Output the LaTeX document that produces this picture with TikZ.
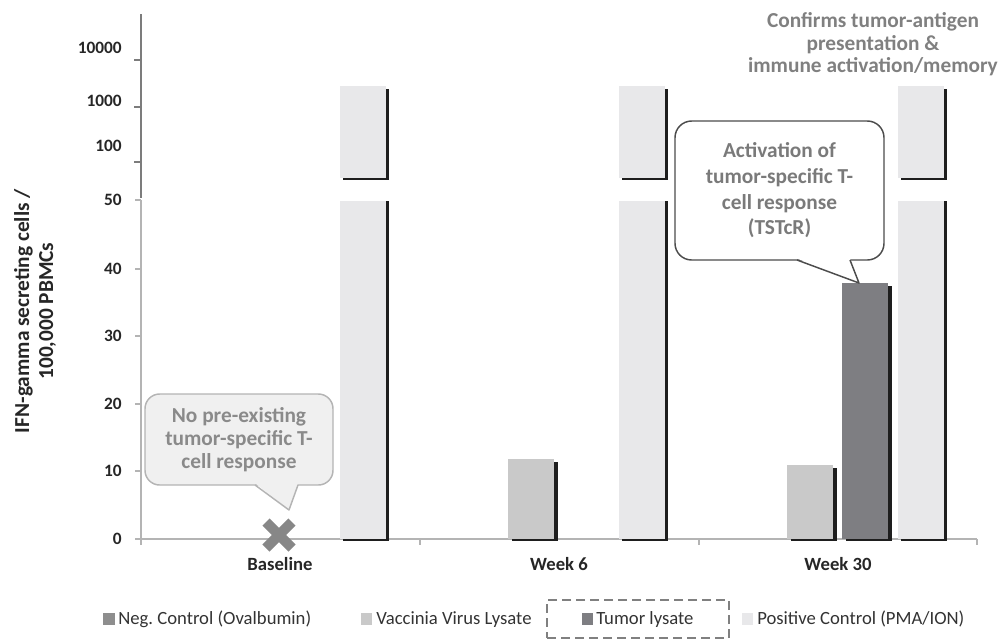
\documentclass[tikz,border=0pt]{standalone}
\usepackage{fontspec}
\setmainfont{Carlito}
\frenchspacing
\definecolor{posc}{HTML}{E8E8EA}
\definecolor{vacc}{HTML}{C9C9C9}
\definecolor{tumc}{HTML}{7E7E82}
\definecolor{negc}{HTML}{8E8E8E}
\definecolor{shadc}{HTML}{1E1E1E}
\definecolor{txtc}{HTML}{262626}
\definecolor{legt}{HTML}{333333}
\definecolor{calt}{HTML}{8A8A8A}
\definecolor{axup}{HTML}{7C7C7C}
\definecolor{axlo}{HTML}{B4B4B4}
\newcommand\drawbar[5]{% left x, top, bottom, colour, shadow top offset
  \fill[shadc] (#1+3.5,#2+#5) rectangle (#1+49.5,#3+1.5);
  \fill[#4] (#1,#2) rectangle (#1+46,#3);}
\begin{document}
\begin{tikzpicture}[x=0.75pt,y=-0.75pt,
  ticklab/.style={anchor=base east,inner sep=0pt,text=txtc,font=\fontsize{13}{15}\selectfont\bfseries},
  catlab/.style={anchor=base,inner sep=0pt,text=txtc,font=\fontsize{14}{17}\selectfont\bfseries},
  leglab/.style={anchor=base west,inner sep=0pt,text=legt,font=\fontsize{14}{17}\selectfont},
  legsq/.style={minimum size=8.6pt,inner sep=0pt},
  callA/.style={draw=axlo,fill=black!6,line width=1.1pt,rounded corners=11pt,text=calt,align=center,
     font=\fontsize{16}{17.25}\selectfont\bfseries,minimum width=141pt,minimum height=68.25pt,inner sep=0pt},
  callB/.style={draw=black!70,fill=white,line width=1.1pt,rounded corners=12.5pt,text=black!52,align=center,
     font=\fontsize{16}{19.3}\selectfont\bfseries,minimum width=156.75pt,minimum height=104.25pt,inner sep=0pt},
  toptext/.style={text=black!50,align=center,inner sep=0pt,font=\fontsize{16}{16.9}\selectfont\bfseries},
  ylab/.style={rotate=90,align=center,inner sep=0pt,text=txtc,font=\fontsize{16}{18}\selectfont\bfseries}]
\useasboundingbox (0,0) rectangle (1001,640);
% axes
\draw[axup,line width=1.1pt] (141,14) -- (141,198);
\draw[axlo,line width=1.1pt] (141,200) -- (141,539);
\draw[axlo,line width=1.1pt] (141,539) -- (977,539);
\foreach \yy in {60,107,162}{\draw[axup,line width=0.9pt] (134,\yy) -- (141,\yy);}
\foreach \yy in {200,269,336,404,471,539}{\draw[axlo,line width=0.9pt] (135,\yy) -- (141,\yy);}
\foreach \xx in {141,420,699,977}{\draw[axlo,line width=0.9pt] (\xx,539) -- (\xx,545);}
% tick labels
\node[ticklab] (t10000) at (122,53) {10000};
\node[ticklab] (t1000) at (122,106) {1000};
\node[ticklab] (t100) at (122,151) {100};
\node[ticklab] (t50) at (122,205) {50};
\node[ticklab] (t40) at (122,274) {40};
\node[ticklab] (t30) at (122,341) {30};
\node[ticklab] (t20) at (122,409) {20};
\node[ticklab] (t10) at (122,476) {10};
\node[ticklab] (t0) at (122,544) {0};
% y label
\node[ylab] (yl) at (35,311) {IFN-gamma secreting cells /\\100,000 PBMCs};
% bars
\drawbar{339.5}{86}{178}{posc}{3}
\drawbar{339.5}{201}{539}{posc}{0}
\drawbar{508}{459}{539}{vacc}{3}
\drawbar{618.5}{86}{178}{posc}{3}
\drawbar{618.5}{201}{539}{posc}{0}
\drawbar{787}{465}{539}{vacc}{3}
\drawbar{842}{283}{539}{tumc}{3}
\drawbar{897.5}{86}{178}{posc}{3}
\drawbar{897.5}{201}{539}{posc}{0}
% category labels
\node[catlab] (cb) at (280,570) {Baseline};
\node[catlab] (cw6) at (559,570) {Week 6};
\node[catlab] (cw30) at (838,570) {Week 30};
% X marker
\draw[negc!95!black,line width=7.5pt] (266,522) -- (292,548) (266,548) -- (292,522);
% callout 1
\node[callA] (ca) at (239,439.5) {No pre-existing\\tumor-specific T-\\cell response};
\coordinate (catip) at (289,510);
\fill[black!6] (255,483) -- (catip) -- (298,483) -- cycle;
\draw[axlo,line width=1.1pt,line join=round] (255,485) -- (catip) -- (298,485);
% callout 2
\node[callB] (cbx) at (779.5,190.5) {Activation of\\tumor-specific T-\\cell response\\(TSTcR)};
\coordinate (cbtip) at (859,283);
\fill[white] (797,258.5) -- (cbtip) -- (850,258.5) -- cycle;
\draw[black!70,line width=1.1pt,line join=round] (797,260) -- (cbtip) -- (850,260);
% top text
\node[toptext] (tt) at (873,44.5) {Confirms tumor-antigen\\presentation \&\\immune activation/memory};
% legend
\node[legsq,fill=negc] (l1) at (109,619) {};
\node[leglab] (l1t) at (118,624) {Neg. Control (Ovalbumin)};
\node[legsq,fill=vacc] (l2) at (366.5,619) {};
\node[leglab] (l2t) at (376,624) {Vaccinia Virus Lysate};
\node[legsq,fill=tumc] (l3) at (587.5,619) {};
\node[leglab] (l3t) at (596,624) {Tumor lysate};
\node[legsq,fill=posc] (l4) at (747.5,619) {};
\node[leglab] (l4t) at (757,624) {Positive Control (PMA/ION)};
\node[draw=black!50,line width=2.2pt,dash pattern=on 7pt off 3.5pt,minimum width=136.5pt,minimum height=28.5pt,inner sep=0pt] (lbox) at (638,619) {};
\end{tikzpicture}
\end{document}
